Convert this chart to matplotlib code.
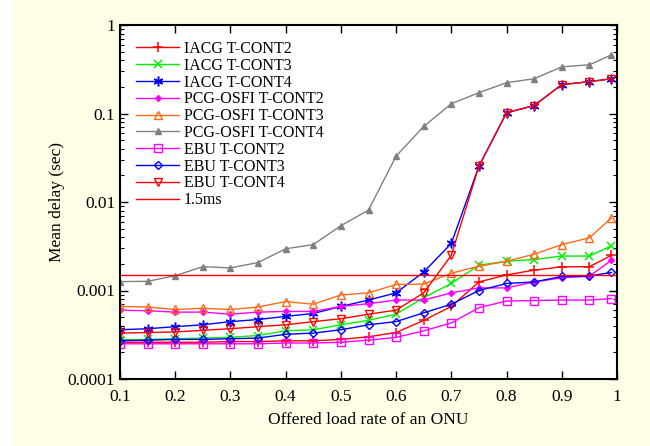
import matplotlib
matplotlib.use('Agg')
import matplotlib.pyplot as plt
from matplotlib.patches import Rectangle

plt.rcParams['font.family'] = ['Liberation Serif', 'DejaVu Serif']

load = [0.1, 0.15, 0.2, 0.25, 0.3, 0.35, 0.4, 0.45, 0.5, 0.55,
        0.6, 0.65, 0.7, 0.75, 0.8, 0.85, 0.9, 0.95, 0.99]

iacg_t2 = [2.6e-4, 2.6e-4, 2.6e-4, 2.6e-4, 2.65e-4, 2.65e-4, 2.7e-4, 2.7e-4, 2.8e-4, 3.0e-4,
           3.35e-4, 4.6e-4, 6.6e-4, 1.25e-3, 1.5e-3, 1.7e-3, 1.85e-3, 1.86e-3, 2.5e-3]
iacg_t3 = [2.77e-4, 2.8e-4, 2.85e-4, 2.9e-4, 2.96e-4, 3.1e-4, 3.5e-4, 3.6e-4, 4.1e-4, 4.6e-4,
           5.4e-4, 8.3e-4, 1.2e-3, 1.93e-3, 2.14e-3, 2.24e-3, 2.45e-3, 2.45e-3, 3.2e-3]
iacg_t4 = [3.6e-4, 3.7e-4, 3.9e-4, 4.1e-4, 4.45e-4, 4.7e-4, 5.1e-4, 5.5e-4, 6.6e-4, 7.8e-4,
           9.4e-4, 1.62e-3, 3.4e-3, 0.0254, 0.102, 0.123, 0.212, 0.229, 0.247]
pcg_t2 = [6.0e-4, 5.9e-4, 5.7e-4, 5.7e-4, 5.4e-4, 5.7e-4, 5.8e-4, 5.8e-4, 6.6e-4, 7.1e-4,
          7.8e-4, 7.8e-4, 9.4e-4, 1.07e-3, 1.07e-3, 1.25e-3, 1.39e-3, 1.45e-3, 2.2e-3]
pcg_t3 = [6.6e-4, 6.5e-4, 6.1e-4, 6.3e-4, 6.1e-4, 6.5e-4, 7.5e-4, 7.0e-4, 8.9e-4, 9.4e-4,
          1.17e-3, 1.18e-3, 1.57e-3, 1.88e-3, 2.14e-3, 2.57e-3, 3.3e-3, 3.94e-3, 6.6e-3]
pcg_t4 = [1.26e-3, 1.27e-3, 1.47e-3, 1.86e-3, 1.8e-3, 2.07e-3, 2.96e-3, 3.3e-3, 5.4e-3, 8.1e-3,
          0.033, 0.0714, 0.129, 0.172, 0.223, 0.247, 0.337, 0.355, 0.46]
ebu_t2 = [2.5e-4, 2.5e-4, 2.5e-4, 2.5e-4, 2.5e-4, 2.5e-4, 2.55e-4, 2.55e-4, 2.6e-4, 2.75e-4,
          2.95e-4, 3.5e-4, 4.3e-4, 6.4e-4, 7.6e-4, 7.7e-4, 7.8e-4, 7.8e-4, 8.1e-4]
ebu_t3 = [2.7e-4, 2.75e-4, 2.8e-4, 2.8e-4, 2.85e-4, 2.9e-4, 3.2e-4, 3.3e-4, 3.6e-4, 4.1e-4,
          4.45e-4, 5.6e-4, 7.0e-4, 1.0e-3, 1.2e-3, 1.25e-3, 1.44e-3, 1.46e-3, 1.6e-3]
ebu_t4 = [3.3e-4, 3.35e-4, 3.4e-4, 3.55e-4, 3.7e-4, 3.9e-4, 4.1e-4, 4.45e-4, 4.8e-4, 5.4e-4,
          6.0e-4, 9.4e-4, 2.5e-3, 0.0254, 0.102, 0.123, 0.212, 0.229, 0.247]
threshold = 1.5e-3

fig = plt.figure(figsize=(6.5, 4.46), dpi=100, facecolor='#fefee6')
fig.patches.append(Rectangle((0, 0), 13 / 650, 1, transform=fig.transFigure,
                             facecolor='white', edgecolor='none', zorder=0))
ax = fig.add_axes([120 / 650, 1 - 379 / 446, 497 / 650, 354 / 446])
ax.set_facecolor('white')

lw = 1.0
ax.plot(load, iacg_t2, color='#ff0000', marker='+', ms=7, mew=1.1, lw=lw, label='IACG T-CONT2')
ax.plot(load, iacg_t3, color='#00ee00', marker='x', ms=6, mew=1.1, lw=lw, label='IACG T-CONT3')
ax.plot(load, iacg_t4, color='#0000ff', marker=(6, 2, 0), ms=7, mew=1.1, lw=lw, label='IACG T-CONT4')
ax.plot(load, pcg_t2, color='#ff00ff', marker='D', ms=3, lw=lw, label='PCG-OSFI T-CONT2')
ax.plot(load, pcg_t3, color='#ff6a1a', marker='^', ms=6, mfc='none', mew=1.0, lw=lw, label='PCG-OSFI T-CONT3')
ax.plot(load, pcg_t4, color='#808080', marker='^', ms=4.5, lw=lw, label='PCG-OSFI T-CONT4')
ax.plot(load, ebu_t2, color='#ff00ff', marker='s', ms=5.5, mfc='none', mew=1.0, lw=lw, label='EBU T-CONT2')
ax.plot(load, ebu_t3, color='#0000ff', marker='D', ms=4.5, mfc='none', mew=1.0, lw=lw, label='EBU T-CONT3')
ax.plot(load, ebu_t4, color='#ff0000', marker='v', ms=6, mfc='none', mew=1.0, lw=lw, label='EBU T-CONT4')
ax.axhline(threshold, color='#ff0000', lw=1.0, label='1.5ms')

ax.set_yscale('log')
ax.set_xlim(0.1, 1.0)
ax.set_ylim(1e-4, 1)
ax.set_xticks([0.1, 0.2, 0.3, 0.4, 0.5, 0.6, 0.7, 0.8, 0.9, 1.0])
ax.set_xticklabels(['0.1', '0.2', '0.3', '0.4', '0.5', '0.6', '0.7', '0.8', '0.9', '1'])
ax.set_yticks([1e-4, 1e-3, 1e-2, 1e-1, 1])
ax.set_yticklabels(['0.0001', '0.001', '0.01', '0.1', '1'])
ax.tick_params(which='both', direction='in', top=True, right=True, labelsize=12.5)
ax.tick_params(which='major', length=6, width=1)
ax.tick_params(which='minor', length=3, width=0.8)
ax.tick_params(axis='x', which='minor', top=False, bottom=False)
ax.tick_params(axis='x', pad=7)
for s in ax.spines.values():
    s.set_linewidth(1.5)

ax.set_xlabel('Offered load rate of an ONU', fontsize=12.5, labelpad=5)
ax.set_ylabel('Mean delay (sec)', fontsize=12.5, labelpad=2)

ax.legend(loc='upper left', frameon=False, fontsize=11.5, handlelength=2.7,
          labelspacing=0.05, borderaxespad=0.5, borderpad=0.5, handletextpad=0.3)

fig.savefig('out.png', dpi=100, facecolor=fig.get_facecolor())
